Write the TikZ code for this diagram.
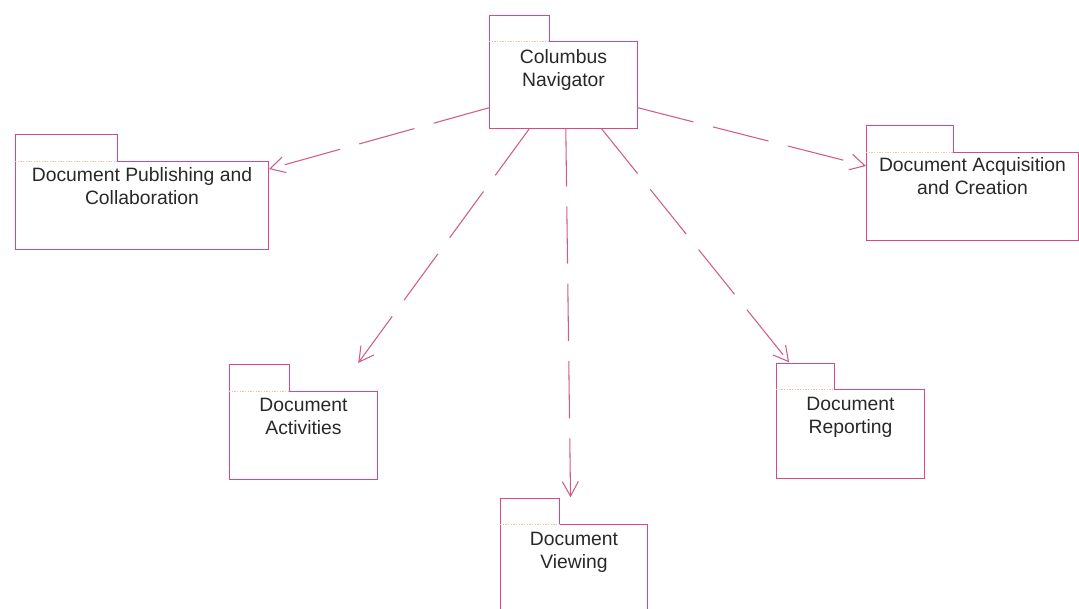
\documentclass[tikz,border=0pt]{standalone}
\usepackage{fontspec}
\setmainfont{Liberation Sans}
\usetikzlibrary{arrows.meta,positioning}

\definecolor{pkgpink}{RGB}{214,72,138}
\definecolor{deppink}{RGB}{208,92,142}
\definecolor{seppale}{RGB}{228,196,176}
\definecolor{pkgtext}{RGB}{40,40,40}

\tikzset{
	pkg/.style={draw=pkgpink, line width=0.75pt, anchor=north west, inner sep=0pt},
	pkgtab/.style={draw=pkgpink, line width=0.6pt},
	pkgsep/.style={draw=seppale, line width=0.6pt, dash pattern=on 1pt off 1pt},
	pkglabel/.style={align=center, anchor=north, inner sep=0pt, text=pkgtext,
		font=\fontsize{14.5}{17.25}\selectfont},
	dep/.style={draw=deppink, line width=0.8pt, dash pattern=on 43pt off 15pt,
		-{Straight Barb[length=11pt,width=12pt]}}
}

% tab on top of a package body: node, tab width, tab height
\newcommand{\pkgtab}[3]{%
	\draw[white, line width=1.2pt] ([xshift=0.6pt]#1.north west) -- ++(#2-1,0);
	\draw[pkgsep] (#1.north west) -- ++(#2,0);
	\draw[pkgtab] (#1.north west) -- ++(0,-#3) -| ++(#2,#3);
}

\begin{document}
\begin{tikzpicture}[x=0.75pt,y=-0.75pt]
	\useasboundingbox (0,0) rectangle (1079,609);
	
	% packages
	\node[pkg, minimum width=111pt, minimum height=65.25pt] (nav) at (489,41) {};
	\node[pkg, minimum width=189.75pt, minimum height=66pt] (pub) at (15,161) {};
	\node[pkg, minimum width=159pt, minimum height=66pt] (acq) at (866,152) {};
	\node[pkg, minimum width=111pt, minimum height=66pt] (act) at (229,391) {};
	\node[pkg, minimum width=110.25pt, minimum height=66pt] (view) at (500,524) {};
	\node[pkg, minimum width=111pt, minimum height=66.75pt] (rep) at (776,389) {};
	
	\pkgtab{nav}{60}{26}
	\pkgtab{pub}{102}{27}
	\pkgtab{acq}{87}{27}
	\pkgtab{act}{60}{27}
	\pkgtab{view}{59}{26}
	\pkgtab{rep}{58}{26}
	
	\node[pkglabel, below=6pt of nav.north] (navtext) {Columbus\\Navigator};
	\node[pkglabel, below=4.5pt of pub.north] (pubtext) {Document Publishing and\\Collaboration};
	\node[pkglabel, below=4pt of acq.north] (acqtext) {Document Acquisition\\and Creation};
	\node[pkglabel, below=5pt of act.north] (acttext) {Document\\Activities};
	\node[pkglabel, below=6pt of view.north] (viewtext) {Document\\Viewing};
	\node[pkglabel, below=6pt of rep.north] (reptext) {Document\\Reporting};
	
	% dependencies
	\draw[dep] (nav.197) -- (pub.16);
	\draw[dep] (nav.343) -- (acq.164);
	\draw[dep] (nav.232) -- ([xshift=41pt,yshift=21pt]act.north);
	\draw[dep] (nav.273) -- ([xshift=-2.6pt,yshift=20pt]view.north);
	\draw[dep] (nav.311) -- ([xshift=-46pt,yshift=20pt]rep.north);
	
\end{tikzpicture}
\end{document}
